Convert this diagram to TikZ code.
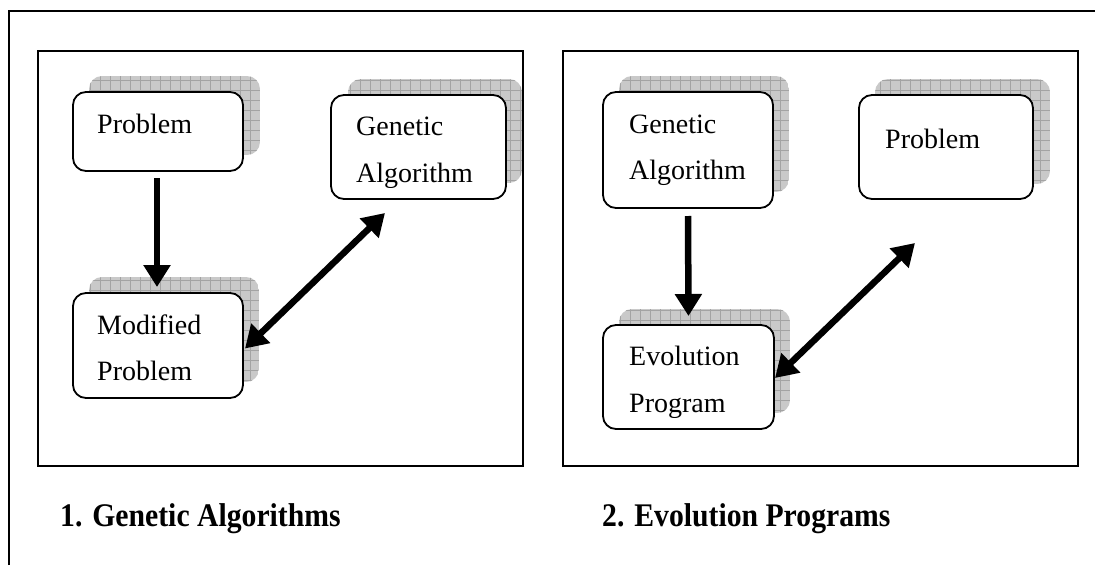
\documentclass[tikz,border=0pt]{standalone}
\usepackage{fontspec}
\setmainfont{Liberation Serif}
\newfontfamily\capfont[FakeStretch=0.9]{Liberation Serif}
\usetikzlibrary{arrows.meta,calc}
\tikzset{
  box/.style={draw, line width=1.8pt, rounded corners=13pt, fill=white, anchor=north west, inner sep=0pt, outer sep=0pt},
  panel/.style={draw, line width=1.8pt},
  framestyle/.style={draw, line width=1.5pt},
  lbl/.style={anchor=base west, inner sep=0pt, font=\fontsize{28}{28}\selectfont},
  captext/.style={anchor=base west, inner sep=0pt, font=\capfont\fontsize{33}{33}\selectfont\bfseries},
  bigtip/.tip={Triangle[length=22pt,width=26pt]},
  arr/.style={line width=6.5pt, -bigtip},
  darr/.style={line width=6.5pt, bigtip-bigtip},
}
\newcommand\shadowpad[4]{%
  \begin{scope}
    \path[clip, rounded corners=13pt] (#1,#2) rectangle (#3,#4);
    \fill[gray!42] (#1,#2) rectangle (#3,#4);
    \draw[gray!72, line width=0.6pt, step=10pt] (#1,#2) grid (#3,#4);
  \end{scope}}
\begin{document}
\begin{tikzpicture}[x=1pt,y=-1pt]
\useasboundingbox (0,0) rectangle (1095,565);
% outer frame (top and left)
\draw[framestyle] (9,565) -- (9,11) -- (1096,11);
% panels
\draw[panel] (38,51) rectangle (523,466);
\draw[panel] (563,51) rectangle (1078,466);

% ---- left panel ----
\shadowpad{89}{76}{260}{155}
\node[box, minimum width=170pt, minimum height=79pt] (p1) at (73,92) {};
\node[lbl] (p1t) at (97,133) {Problem};

\shadowpad{348}{79}{522}{183}
\node[box, minimum width=175pt, minimum height=104pt] (g1) at (331,95) {};
\node[lbl] (g1a) at (356,135) {Genetic};
\begin{scope}
  \clip (331,150) rectangle (506,187);
  \node[lbl] (g1b) at (356,182) {Algorithm};
\end{scope}

\shadowpad{89}{277}{259}{382}
\node[box, minimum width=170pt, minimum height=105pt] (m1) at (73,293) {};
\node[lbl] (m1a) at (97,334) {Modified};
\node[lbl] (m1b) at (97,380) {Problem};

\draw[arr] ($(p1.south)+(-1,7)$) -- ($(m1.north)+(-1,-6)$);
\draw[darr] ($(m1.east)+(2,3)$) -- ($(g1.south west)+(54,14)$);

% ---- right panel ----
\shadowpad{619}{76}{789}{192}
\node[box, minimum width=170pt, minimum height=116pt] (g2) at (603,92) {};
\node[lbl] (g2a) at (629,133) {Genetic};
\node[lbl] (g2b) at (629,179) {Algorithm};

\shadowpad{875}{79}{1050}{184}
\node[box, minimum width=174pt, minimum height=104pt] (p2) at (859,95) {};
\node[lbl] (p2t) at (885,148) {Problem};

\shadowpad{619}{309}{790}{413}
\node[box, minimum width=171pt, minimum height=104pt] (e2) at (603,325) {};
\node[lbl] (e2a) at (629,365) {Evolution};
\begin{scope}
  \clip (603,380) rectangle (774,417);
  \node[lbl] (e2b) at (629,412) {Program};
\end{scope}

\draw[arr] ($(g2.south)+(0,8)$) -- ($(e2.north)+(0,-9)$);
\draw[darr] ($(e2.east)+(1,1)$) -- ($(p2.south west)+(56,44)$);

% captions
\node[captext] (c1) at (60,526) {1. Genetic Algorithms};
\node[captext] (c2) at (602,526) {2. Evolution Programs};
\end{tikzpicture}
\end{document}
